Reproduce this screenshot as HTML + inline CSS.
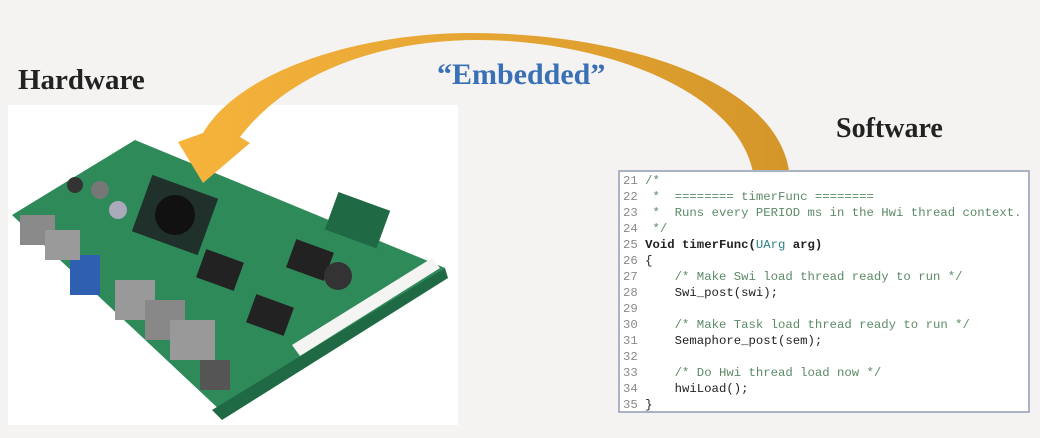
<!DOCTYPE html>
<html><head><meta charset="utf-8"><style>
html,body{margin:0;padding:0;}
body{width:1040px;height:438px;background:#f4f3f1;position:relative;overflow:hidden;font-family:"Liberation Serif",serif;}
.t{position:absolute;font-weight:bold;white-space:nowrap;}
#code{position:absolute;left:618px;top:170px;width:412px;height:243px;background:#fff;border:2px solid #aab3c4;box-sizing:border-box;}
#code pre{margin:0;position:absolute;left:3px;top:1px;font-family:"Liberation Mono",monospace;font-size:12.3px;line-height:16px;color:#222;}
.n{color:#8a8a8a}.c{color:#5c8a66}.k{font-weight:bold;color:#222}.u{color:#2f7f86}
</style></head><body>
<div style="position:absolute;left:8px;top:105px;width:450px;height:320px;background:#fff"></div>
<svg width="1040" height="438" style="position:absolute;left:0;top:0">
<defs><linearGradient id="g" x1="0" y1="0" x2="1" y2="0">
<stop offset="0" stop-color="#f6b43c"/><stop offset="1" stop-color="#d4962a"/></linearGradient></defs>
<polygon points="12,215 135,140 445,268 222,412" fill="#2f8a5a"/>
<polygon points="212,410 445,268 448,278 222,420" fill="#1f6a44"/>
<polygon points="292,345 432,258 440,268 300,356" fill="#f4f4f2"/>
<rect x="140" y="185" width="70" height="60" fill="#20302a" transform="rotate(20 175 215)"/>
<circle cx="175" cy="215" r="20" fill="#111"/>
<rect x="200" y="255" width="40" height="30" fill="#222" transform="rotate(20 220 270)"/>
<rect x="250" y="300" width="40" height="30" fill="#222" transform="rotate(20 270 315)"/>
<rect x="290" y="245" width="40" height="30" fill="#222" transform="rotate(20 310 260)"/>
<circle cx="338" cy="276" r="14" fill="#333"/>
<rect x="70" y="255" width="30" height="40" fill="#2f5fb0"/>
<rect x="115" y="280" width="40" height="40" fill="#999"/>
<rect x="145" y="300" width="40" height="40" fill="#888"/>
<rect x="170" y="320" width="45" height="40" fill="#999"/>
<rect x="20" y="215" width="35" height="30" fill="#8a8a8a"/>
<rect x="45" y="230" width="35" height="30" fill="#9a9a9a"/>
<rect x="200" y="360" width="30" height="30" fill="#555"/>
<circle cx="100" cy="190" r="9" fill="#777"/><circle cx="118" cy="210" r="9" fill="#aab"/>
<circle cx="75" cy="185" r="8" fill="#333"/>
<rect x="330" y="200" width="55" height="40" fill="#1f6a44" transform="rotate(20 357 220)"/>
<path d="M754 178 C742 90 600 40 478 40 C380 40 290 72 240 137 L250 143 L203 183 L178 142 L203 133 C240 70 360 33 470 33 C620 33 782 80 790 178 Z" fill="url(#g)"/>
</svg>
<div class="t" style="left:18px;top:64px;font-size:29px;color:#222">Hardware</div>
<div class="t" style="left:437px;top:58px;font-size:30px;color:#3a70b5">“Embedded”</div>
<div class="t" style="left:836px;top:113px;font-size:28px;color:#222">Software</div>
<div id="code"><pre><span class="n">21</span> <span class="c">/*</span>
<span class="n">22</span> <span class="c"> *  ======== timerFunc ========</span>
<span class="n">23</span> <span class="c"> *  Runs every PERIOD ms in the Hwi thread context.</span>
<span class="n">24</span> <span class="c"> */</span>
<span class="n">25</span> <span class="k">Void timerFunc(</span><span class="u">UArg</span><span class="k"> arg)</span>
<span class="n">26</span> {
<span class="n">27</span>     <span class="c">/* Make Swi load thread ready to run */</span>
<span class="n">28</span>     Swi_post(swi);
<span class="n">29</span>
<span class="n">30</span>     <span class="c">/* Make Task load thread ready to run */</span>
<span class="n">31</span>     Semaphore_post(sem);
<span class="n">32</span>
<span class="n">33</span>     <span class="c">/* Do Hwi thread load now */</span>
<span class="n">34</span>     hwiLoad();
<span class="n">35</span> }</pre></div>
</body></html>
